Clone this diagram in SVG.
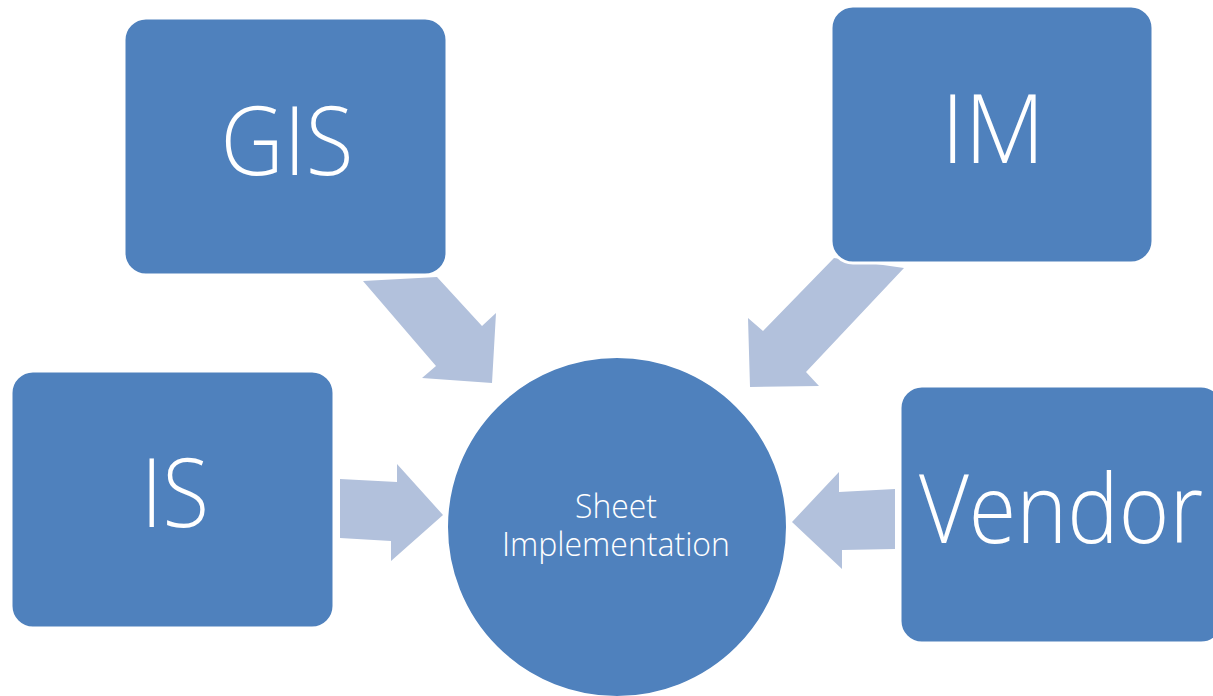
<svg xmlns="http://www.w3.org/2000/svg" width="1213" height="696" viewBox="0 0 1213 696">
  <style>
    .box { fill: #4F81BD; stroke: #FFFFFF; stroke-width: 3; }
    .arrow { fill: #B2C1DC; }
    .big { fill: #FFFFFF; font-family: "Open Sans", "Noto Sans", "DejaVu Sans", sans-serif; font-weight: 300; font-size: 96px; text-anchor: middle; }
    .small { fill: #FFFFFF; font-family: "Open Sans", "Noto Sans", "DejaVu Sans", sans-serif; font-weight: 300; font-size: 33px; text-anchor: middle; }
  </style>
  <rect width="1213" height="696" fill="#FFFFFF"/>

  <!-- block arrows pointing into the centre circle -->
  <g id="connectors">
    <polygon class="arrow" points="363,281 437,277 482,326 496,313 492,383 422,378 436,366"/>
    <polygon class="arrow" points="834,258 904,268 806,372 819,386 750,387 748,318 763,331"/>
    <polygon class="arrow" points="340,479 397,482 397,464 443,515 391,561 391,541 340,538"/>
    <polygon class="arrow" points="792,522 839,472 839,492 895,489 895,549 842,550 842,569"/>
  </g>

  <g id="node-gis">
    <rect class="box" x="124" y="18" width="323" height="257" rx="22" ry="22"/>
    <text class="big" x="287" y="175" textLength="133" lengthAdjust="spacingAndGlyphs">GIS</text>
  </g>

  <g id="node-im">
    <rect class="box" x="831" y="6" width="322" height="257" rx="22" ry="22"/>
    <text class="big" x="993" y="163" textLength="104" lengthAdjust="spacingAndGlyphs">IM</text>
  </g>

  <g id="node-is">
    <rect class="box" x="11" y="371" width="323" height="257" rx="22" ry="22"/>
    <text class="big" x="175" y="527" textLength="68" lengthAdjust="spacingAndGlyphs">IS</text>
  </g>

  <g id="node-vendor">
    <rect class="box" x="900" y="386" width="323" height="257" rx="22" ry="22"/>
    <text class="big" x="1061" y="543" textLength="284" lengthAdjust="spacingAndGlyphs">Vendor</text>
  </g>

  <g id="node-sheet">
    <circle cx="617" cy="527" r="170" fill="#4F81BD" stroke="#FFFFFF" stroke-width="2"/>
    <text class="small" x="616" y="518" textLength="82" lengthAdjust="spacingAndGlyphs">Sheet</text>
    <text class="small" x="616" y="556" textLength="228" lengthAdjust="spacingAndGlyphs">Implementation</text>
  </g>
</svg>
